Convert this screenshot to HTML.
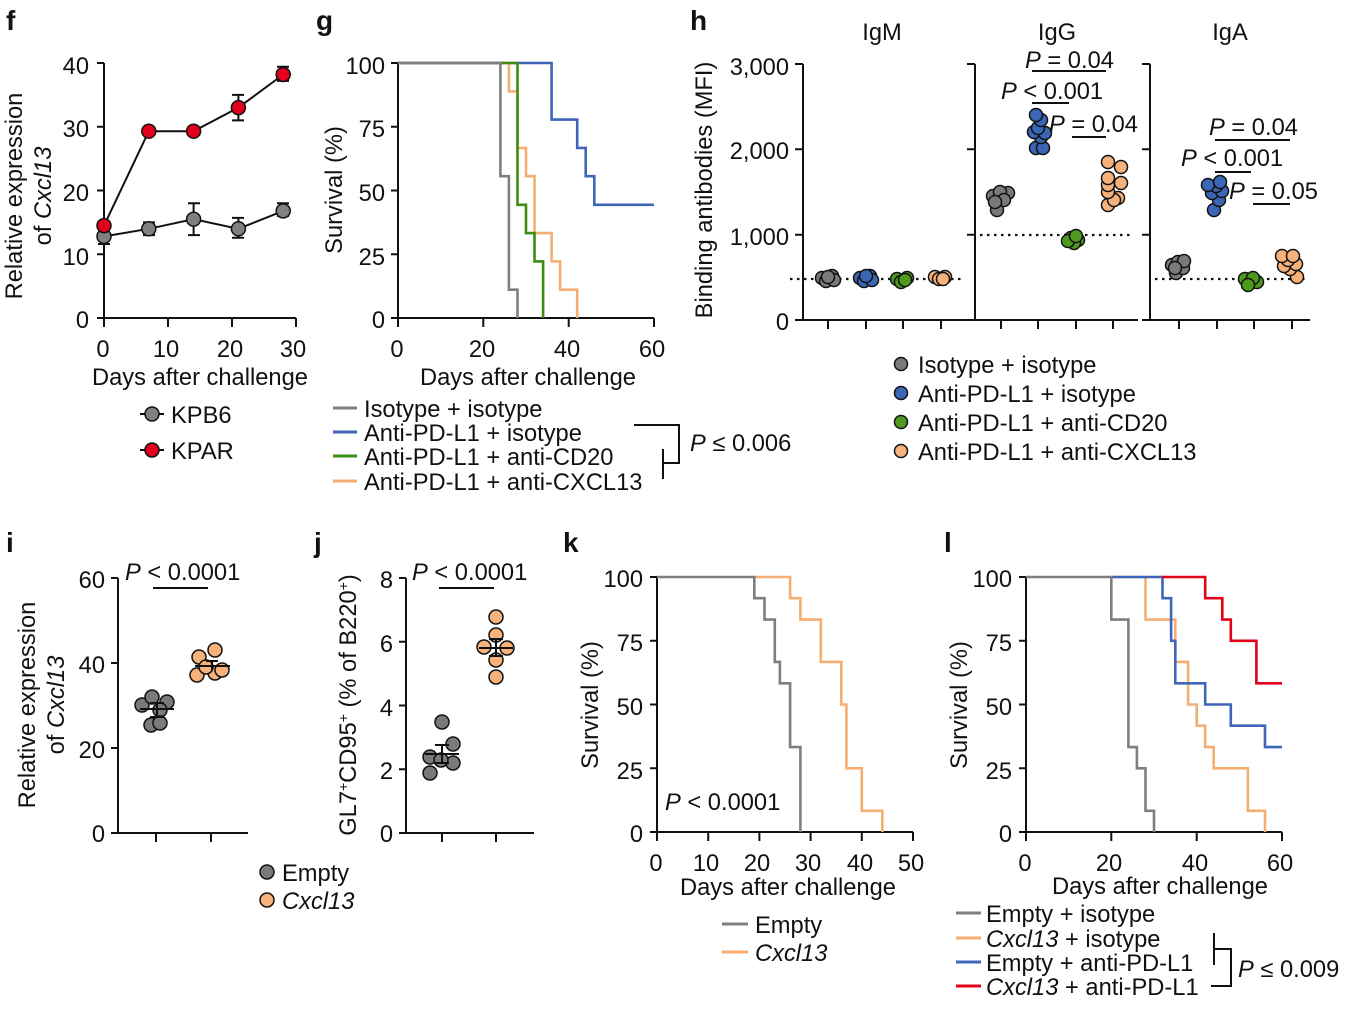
<!DOCTYPE html>
<html><head><meta charset="utf-8"><style>
html,body{margin:0;padding:0;background:#fff}
svg{display:block;font-family:"Liberation Sans",Arial,sans-serif}
text{font-size:23.7px;fill:#111}
.b{font-weight:bold;font-size:28px}
.ax{stroke:#111;stroke-width:2;fill:none}
.km{fill:none;stroke-width:2.6}
.pt{stroke:#111;stroke-width:1.5}
</style></head><body>
<svg width="1362" height="1031" viewBox="0 0 1362 1031">
<text class="b" x="6" y="30">f</text>
<text class="b" x="316" y="30">g</text>
<text class="b" x="690" y="30">h</text>
<text class="b" x="6" y="552">i</text>
<text class="b" x="314" y="552">j</text>
<text class="b" x="563" y="552">k</text>
<text class="b" x="944" y="552">l</text>

<!-- ===== f ===== -->
<path class="ax" d="M104,63V318 M97,63H104 M97,126.8H104 M97,190.5H104 M97,254.3H104 M97,318H104 M97,318H296 M104,318V327 M168,318V327 M232,318V327 M296,318V327"/>
<g text-anchor="end"><text x="89" y="74">40</text><text x="89" y="137">30</text><text x="89" y="201">20</text><text x="89" y="265">10</text><text x="89" y="328">0</text></g>
<g text-anchor="middle"><text x="103" y="357">0</text><text x="166" y="357">10</text><text x="230" y="357">20</text><text x="293" y="357">30</text>
<text x="200" y="385">Days after challenge</text></g>
<text transform="translate(22,196) rotate(-90)" text-anchor="middle">Relative expression</text>
<text transform="translate(51,196) rotate(-90)" text-anchor="middle">of <tspan font-style="italic">Cxcl13</tspan></text>
<g stroke="#111" stroke-width="2">
<path d="M104,236.4L148.8,228.8L193.6,219.2L238.4,228.8L283.2,210.9" fill="none"/>
<path d="M104,225.6L148.8,131.2L193.6,131.2L238.4,107.6L283.2,74.5" fill="none"/>
<path d="M98,244H110M104,244V230 M143,235.1H155M148.8,235.1V222.4H143H155 M188,235.1H200M193.6,235.1V203.3H188H200 M232,237.7H244M238.4,237.7V217.9H232H244 M277,216H289M283.2,216V203.3H277H289 M232,120.4H244M238.4,120.4V94.9H232H244 M277,80.9H289M283.2,80.9V66.8H277H289" fill="none"/>
</g>
<g class="pt"><circle cx="104" cy="236.4" r="7" fill="#808080"/><circle cx="148.8" cy="228.8" r="7" fill="#808080"/><circle cx="193.6" cy="219.2" r="7" fill="#808080"/><circle cx="238.4" cy="228.8" r="7" fill="#808080"/><circle cx="283.2" cy="210.9" r="7" fill="#808080"/>
<circle cx="104" cy="225.6" r="7" fill="#e2001a"/><circle cx="148.8" cy="131.2" r="7" fill="#e2001a"/><circle cx="193.6" cy="131.2" r="7" fill="#e2001a"/><circle cx="238.4" cy="107.6" r="7" fill="#e2001a"/><circle cx="283.2" cy="74.5" r="7" fill="#e2001a"/></g>
<path d="M140,414H164M140,450H164" stroke="#111" stroke-width="2"/>
<circle class="pt" cx="152" cy="414" r="7" fill="#808080"/><circle class="pt" cx="152" cy="450" r="7" fill="#e2001a"/>
<text x="171" y="423">KPB6</text><text x="171" y="459">KPAR</text>

<!-- ===== g ===== -->
<path class="ax" d="M398,63V318 M391,63H398 M391,126.8H398 M391,190.5H398 M391,254.3H398 M391,318H398 M398,318H654 M398,318V327 M483.3,318V327 M568.7,318V327 M654,318V327"/>
<g text-anchor="end"><text x="385" y="74">100</text><text x="385" y="137">75</text><text x="385" y="201">50</text><text x="385" y="265">25</text><text x="385" y="328">0</text></g>
<g text-anchor="middle"><text x="397" y="357">0</text><text x="482" y="357">20</text><text x="567" y="357">40</text><text x="652" y="357">60</text>
<text x="528" y="385">Days after challenge</text></g>
<text transform="translate(342,190) rotate(-90)" text-anchor="middle">Survival (%)</text>
<path class="km" stroke="#3f66b8" d="M398,63 H551.6 V119.6 H577.2 V147.9 H585.7 V176.2 H594.3 V204.8 H654"/>
<path class="km" stroke="#f5ae72" d="M398,63 H508.9 V91.3 H517.5 V147.9 H526 V176.2 H534.5 V233.1 H551.6 V261.4 H560.1 V289.7 H577.2 V318"/>
<path class="km" stroke="#3d8b10" d="M398,63 H517.5 V204.8 H526 V233.1 H534.5 V261.4 H543.1 V318"/>
<path class="km" stroke="#7f7f7f" d="M398,63 H500.4 V176.2 H508.9 V289.7 H517.5 V318"/>
<path d="M333,408H357" stroke="#7f7f7f" stroke-width="3"/><path d="M333,432H357" stroke="#3f66b8" stroke-width="3"/>
<path d="M333,456H357" stroke="#3d8b10" stroke-width="3"/><path d="M333,481H357" stroke="#f5ae72" stroke-width="3"/>
<text x="364" y="417">Isotype + isotype</text><text x="364" y="441">Anti-PD-L1 + isotype</text>
<text x="364" y="465">Anti-PD-L1 + anti-CD20</text><text x="364" y="490">Anti-PD-L1 + anti-CXCL13</text>
<path d="M634,425H679V463H663 M663,449V479" stroke="#111" stroke-width="2" fill="none"/>
<text x="690" y="451"><tspan font-style="italic">P</tspan> ≤ 0.006</text>

<!-- ===== h ===== -->
<g text-anchor="middle"><text x="882" y="40">IgM</text><text x="1057" y="40">IgG</text><text x="1230" y="40">IgA</text></g>
<text transform="translate(712,190) rotate(-90)" text-anchor="middle">Binding antibodies (MFI)</text>
<g text-anchor="end"><text x="789" y="75">3,000</text><text x="789" y="159">2,000</text><text x="789" y="245">1,000</text><text x="789" y="330">0</text></g>
<path class="ax" d="M803,64V320 M795,64H803 M795,149.3H803 M795,234.7H803 M795,320H803 M803,320H967 M828,320V329 M866,320V329 M903,320V329 M941,320V329"/>
<path class="ax" d="M975,64V320 M967,64H975 M967,149.3H975 M967,234.7H975 M967,320H975 M975,320H1138 M1001,320V329 M1038,320V329 M1076,320V329 M1113,320V329"/>
<path class="ax" d="M1150,64V320 M1142,64H1150 M1142,149.3H1150 M1142,234.7H1150 M1142,320H1150 M1150,320H1310 M1179,320V329 M1217,320V329 M1254,320V329 M1292,320V329"/>
<g stroke="#111" stroke-width="2.2" stroke-dasharray="2.5,4.5"><path d="M790,279H962"/><path d="M980,235H1133"/><path d="M1155,279H1307"/></g>
<g class="pt">
<g fill="#7a7a7a"><circle cx="822" cy="278" r="6.5"/><circle cx="832" cy="276" r="6.5"/><circle cx="826" cy="281" r="6.5"/><circle cx="834" cy="280" r="6.5"/><circle cx="828" cy="277" r="6.5"/></g>
<g fill="#3a66b5"><circle cx="860" cy="278" r="6.5"/><circle cx="870" cy="276" r="6.5"/><circle cx="864" cy="281" r="6.5"/><circle cx="872" cy="280" r="6.5"/><circle cx="866" cy="276" r="6.5"/></g>
<g fill="#4e9a1e"><circle cx="897" cy="279" r="6.5"/><circle cx="907" cy="278" r="6.5"/><circle cx="901" cy="282" r="6.5"/><circle cx="905" cy="280" r="6.5"/></g>
<g fill="#f6b27a"><circle cx="935" cy="277" r="6.5"/><circle cx="945" cy="277" r="6.5"/><circle cx="939" cy="279" r="6.5"/><circle cx="943" cy="279" r="6.5"/></g>
<g fill="#7a7a7a"><circle cx="997" cy="210" r="6.5"/><circle cx="1001" cy="197" r="6.5"/><circle cx="993" cy="196" r="6.5"/><circle cx="1008" cy="193" r="6.5"/><circle cx="1000" cy="192" r="6.5"/><circle cx="1004" cy="200" r="6.5"/><circle cx="995" cy="202" r="6.5"/></g>
<g fill="#3a66b5"><circle cx="1036" cy="148" r="6.5"/><circle cx="1043" cy="148" r="6.5"/><circle cx="1041" cy="137" r="6.5"/><circle cx="1034" cy="132" r="6.5"/><circle cx="1045" cy="133" r="6.5"/><circle cx="1038" cy="128" r="6.5"/><circle cx="1041" cy="120" r="6.5"/><circle cx="1036" cy="115" r="6.5"/></g>
<g fill="#4e9a1e"><circle cx="1071" cy="238" r="6.5"/><circle cx="1078" cy="240" r="6.5"/><circle cx="1074" cy="243" r="6.5"/><circle cx="1068" cy="241" r="6.5"/><circle cx="1076" cy="236" r="6.5"/></g>
<g fill="#f6b27a"><circle cx="1108" cy="205" r="6.5"/><circle cx="1118" cy="198" r="6.5"/><circle cx="1114" cy="200" r="6.5"/><circle cx="1108" cy="192" r="6.5"/><circle cx="1108" cy="185" r="6.5"/><circle cx="1121" cy="183" r="6.5"/><circle cx="1108" cy="178" r="6.5"/><circle cx="1121" cy="167" r="6.5"/><circle cx="1108" cy="162" r="6.5"/></g>
<g fill="#7a7a7a"><circle cx="1176" cy="273" r="6.5"/><circle cx="1183" cy="268" r="6.5"/><circle cx="1172" cy="265" r="6.5"/><circle cx="1178" cy="262" r="6.5"/><circle cx="1184" cy="261" r="6.5"/><circle cx="1175" cy="268" r="6.5"/></g>
<g fill="#3a66b5"><circle cx="1214" cy="210" r="6.5"/><circle cx="1219" cy="200" r="6.5"/><circle cx="1212" cy="193" r="6.5"/><circle cx="1222" cy="191" r="6.5"/><circle cx="1216" cy="186" r="6.5"/><circle cx="1208" cy="185" r="6.5"/><circle cx="1220" cy="182" r="6.5"/></g>
<g fill="#4e9a1e"><circle cx="1250" cy="283" r="6.5"/><circle cx="1257" cy="282" r="6.5"/><circle cx="1245" cy="279" r="6.5"/><circle cx="1253" cy="278" r="6.5"/><circle cx="1248" cy="285" r="6.5"/></g>
<g fill="#f6b27a"><circle cx="1297" cy="277" r="6.5"/><circle cx="1290" cy="269" r="6.5"/><circle cx="1284" cy="266" r="6.5"/><circle cx="1296" cy="264" r="6.5"/><circle cx="1288" cy="260" r="6.5"/><circle cx="1282" cy="256" r="6.5"/><circle cx="1293" cy="256" r="6.5"/></g>
</g>
<g stroke="#111" stroke-width="2"><path d="M1032,71H1106M1032,103H1069M1072,137H1106M1215,140H1290M1215,172H1251M1253,204H1290"/></g>
<text x="1025" y="68"><tspan font-style="italic">P</tspan> = 0.04</text>
<text x="1001" y="99"><tspan font-style="italic">P</tspan> &lt; 0.001</text>
<text x="1049" y="132"><tspan font-style="italic">P</tspan> = 0.04</text>
<text x="1209" y="135"><tspan font-style="italic">P</tspan> = 0.04</text>
<text x="1181" y="166"><tspan font-style="italic">P</tspan> &lt; 0.001</text>
<text x="1229" y="199"><tspan font-style="italic">P</tspan> = 0.05</text>
<g class="pt"><circle cx="901" cy="364" r="6.5" fill="#7a7a7a"/><circle cx="901" cy="393" r="6.5" fill="#3a66b5"/><circle cx="901" cy="422" r="6.5" fill="#4e9a1e"/><circle cx="901" cy="451" r="6.5" fill="#f6b27a"/></g>
<text x="918" y="373">Isotype + isotype</text><text x="918" y="402">Anti-PD-L1 + isotype</text>
<text x="918" y="431">Anti-PD-L1 + anti-CD20</text><text x="918" y="460">Anti-PD-L1 + anti-CXCL13</text>

<!-- ===== i ===== -->
<path class="ax" d="M118,578V833 M111,578H118 M111,663H118 M111,748H118 M111,833H118 M118,833H248 M156,833V842 M211,833V842"/>
<g text-anchor="end"><text x="105" y="588">60</text><text x="105" y="673">40</text><text x="105" y="758">20</text><text x="105" y="842">0</text></g>
<text transform="translate(35,705) rotate(-90)" text-anchor="middle">Relative expression</text>
<text transform="translate(64,705) rotate(-90)" text-anchor="middle">of <tspan font-style="italic">Cxcl13</tspan></text>
<text x="125" y="580"><tspan font-style="italic">P</tspan> &lt; 0.0001</text>
<path d="M153,588H208" stroke="#111" stroke-width="2"/>
<g class="pt">
<g fill="#7a7a7a"><circle cx="142" cy="705" r="7"/><circle cx="152" cy="697" r="7"/><circle cx="167" cy="702" r="7"/><circle cx="160" cy="710" r="7"/><circle cx="151" cy="725" r="7"/><circle cx="160" cy="723" r="7"/></g>
<g fill="#f6b27a"><circle cx="199" cy="657" r="7"/><circle cx="215" cy="650" r="7"/><circle cx="197" cy="675" r="7"/><circle cx="215" cy="673" r="7"/><circle cx="222" cy="670" r="7"/><circle cx="206" cy="667" r="7"/></g>
</g>
<path d="M140,709H174M157,703V717M150,703H164M150,717H164 M195,666H230M212,661V670M206,661H218" stroke="#111" stroke-width="2" fill="none"/>
<g class="pt"><circle cx="267" cy="872" r="7" fill="#7a7a7a"/><circle cx="267" cy="900" r="7" fill="#f6b27a"/></g>
<text x="282" y="881">Empty</text><text x="282" y="909" font-style="italic">Cxcl13</text>

<!-- ===== j ===== -->
<path class="ax" d="M406,578V833 M399,578H406 M399,641.8H406 M399,705.5H406 M399,769.3H406 M399,833H406 M406,833H534 M442,833V842 M496,833V842"/>
<g text-anchor="end"><text x="393" y="588">8</text><text x="393" y="652">6</text><text x="393" y="716">4</text><text x="393" y="779">2</text><text x="393" y="842">0</text></g>
<text transform="translate(356,705) rotate(-90)" text-anchor="middle">GL7<tspan font-size="14" dy="-8">+</tspan><tspan dy="8">CD95</tspan><tspan font-size="14" dy="-8">+</tspan><tspan dy="8"> (% of B220</tspan><tspan font-size="14" dy="-8">+</tspan><tspan dy="8">)</tspan></text>
<text x="412" y="580"><tspan font-style="italic">P</tspan> &lt; 0.0001</text>
<path d="M439,588H494" stroke="#111" stroke-width="2"/>
<g class="pt">
<g fill="#7a7a7a"><circle cx="442" cy="722" r="7"/><circle cx="430" cy="757" r="7"/><circle cx="453" cy="744" r="7"/><circle cx="430" cy="773" r="7"/><circle cx="453" cy="763" r="7"/><circle cx="441" cy="760" r="7"/></g>
<g fill="#f6b27a"><circle cx="496" cy="617" r="7"/><circle cx="496" cy="635" r="7"/><circle cx="484" cy="647" r="7"/><circle cx="507" cy="648" r="7"/><circle cx="496" cy="660" r="7"/><circle cx="496" cy="677" r="7"/></g>
</g>
<path d="M425,754H459M442,745V763M435,745H449M435,763H449 M479,648H513M496,639V656M489,639H503M489,656H503" stroke="#111" stroke-width="2" fill="none"/>

<!-- ===== k ===== -->
<path class="ax" d="M657,577V832 M650,577H657 M650,640.8H657 M650,704.5H657 M650,768.3H657 M650,832H657 M657,832H913 M657,832V841 M708.2,832V841 M759.4,832V841 M810.6,832V841 M861.8,832V841 M913,832V841"/>
<g text-anchor="end"><text x="643" y="587">100</text><text x="643" y="651">75</text><text x="643" y="715">50</text><text x="643" y="779">25</text><text x="643" y="842">0</text></g>
<g text-anchor="middle"><text x="656" y="871">0</text><text x="706" y="871">10</text><text x="757" y="871">20</text><text x="808" y="871">30</text><text x="860" y="871">40</text><text x="911" y="871">50</text>
<text x="788" y="895">Days after challenge</text></g>
<text transform="translate(598,705) rotate(-90)" text-anchor="middle">Survival (%)</text>
<path class="km" stroke="#f5ae72" d="M754,577 H790.1 V598.2 H800.4 V619.6 H820.8 V661.9 H841.3 V704.5 H846.4 V768.3 H861.8 V810.8 H882.3 V832"/>
<path class="km" stroke="#7f7f7f" d="M657,577 H754.3 V598.2 H764.5 V619.6 H774.8 V661.9 H779.9 V683.3 H790.1 V747.1 H800.4 V832"/>
<text x="665" y="810"><tspan font-style="italic">P</tspan> &lt; 0.0001</text>
<path d="M722,924H748" stroke="#7f7f7f" stroke-width="3"/><path d="M722,952H748" stroke="#f5ae72" stroke-width="3"/>
<text x="755" y="933">Empty</text><text x="755" y="961" font-style="italic">Cxcl13</text>

<!-- ===== l ===== -->
<path class="ax" d="M1026,577V832 M1019,577H1026 M1019,640.8H1026 M1019,704.5H1026 M1019,768.3H1026 M1019,832H1026 M1026,832H1282 M1026,832V841 M1111.3,832V841 M1196.7,832V841 M1282,832V841"/>
<g text-anchor="end"><text x="1012" y="587">100</text><text x="1012" y="651">75</text><text x="1012" y="715">50</text><text x="1012" y="779">25</text><text x="1012" y="842">0</text></g>
<g text-anchor="middle"><text x="1025" y="871">0</text><text x="1109" y="871">20</text><text x="1195" y="871">40</text><text x="1280" y="871">60</text>
<text x="1160" y="894">Days after challenge</text></g>
<text transform="translate(967,705) rotate(-90)" text-anchor="middle">Survival (%)</text>
<path class="km" stroke="#f5ae72" d="M1111,577 H1145.5 V619.6 H1175.3 V661.9 H1188.1 V704.5 H1196.7 V725.7 H1205.2 V747.1 H1213.7 V768.3 H1247.9 V810.8 H1265 V832"/>
<path class="km" stroke="#3f66b8" d="M1111,577 H1162.5 V598.2 H1171.1 V640.8 H1175.3 V683.3 H1205.2 V704.5 H1230.8 V725.7 H1265 V747.1 H1282"/>
<path class="km" stroke="#e3001b" d="M1162,577 H1205.2 V598.2 H1222.3 V619.6 H1230.8 V640.8 H1256.4 V683.3 H1282"/>
<path class="km" stroke="#7f7f7f" d="M1026,577 H1111.3 V619.6 H1128.4 V747.1 H1136.9 V768.3 H1145.5 V810.8 H1154 V832"/>
<path d="M956,913H981" stroke="#7f7f7f" stroke-width="3"/><path d="M956,938H981" stroke="#f5ae72" stroke-width="3"/>
<path d="M956,962H981" stroke="#3f66b8" stroke-width="3"/><path d="M956,986H981" stroke="#e3001b" stroke-width="3"/>
<text x="986" y="922">Empty + isotype</text>
<text x="986" y="947"><tspan font-style="italic">Cxcl13</tspan> + isotype</text>
<text x="986" y="971">Empty + anti-PD-L1</text>
<text x="986" y="995"><tspan font-style="italic">Cxcl13</tspan> + anti-PD-L1</text>
<path d="M1214,933V965 M1214,949H1231V986H1211" stroke="#111" stroke-width="2" fill="none"/>
<text x="1238" y="977"><tspan font-style="italic">P</tspan> ≤ 0.009</text>
</svg>
</body></html>
